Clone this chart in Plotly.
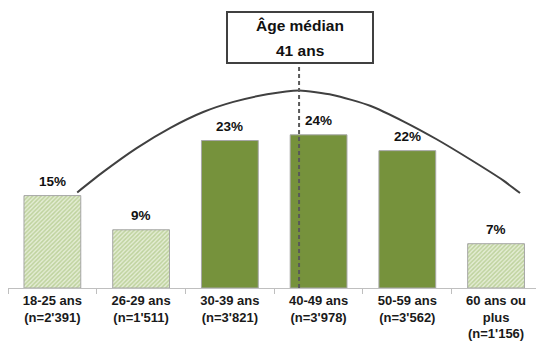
import plotly.graph_objects as go

categories = ["18-25 ans<br>(n=2'391)", "26-29 ans<br>(n=1'511)", "30-39 ans<br>(n=3'821)",
              "40-49 ans<br>(n=3'978)", "50-59 ans<br>(n=3'562)", "60 ans ou<br>plus<br>(n=1'156)"]
values = [14.6, 9.2, 23.3, 24.2, 21.7, 7.0]
labels = ["15%", "9%", "23%", "24%", "22%", "7%"]
hatched = [True, True, False, False, False, True]

# bell-shaped trend curve (x in category units, y in %)
curve_x = [0.28, 0.57, 0.95, 1.33, 1.70, 2.04, 2.42, 2.78, 3.16, 3.58, 3.96, 4.33, 4.71, 5.08, 5.27]
curve_y = [15.1, 18.3, 22.1, 25.3, 27.8, 29.4, 30.6, 31.2, 30.5, 28.8, 26.3, 23.5, 20.3, 17.0, 15.0]

median_x = 2.78
median_title = "Âge médian"
median_value = "41 ans"

W, H = 536, 343
ML, MR, MT, MB = 8, 0, 0, 55
YMAX = 45.5
XMIN, XMAX = -0.5, 5.45

solid_color = "#76923C"
hatch_bg = "#e4edd4"
hatch_fg = "#98b766"

xs = list(range(len(categories)))

fig = go.Figure()

sol_x = [x for x, h in zip(xs, hatched) if not h]
sol_y = [v for v, h in zip(values, hatched) if not h]
hat_x = [x for x, h in zip(xs, hatched) if h]
hat_y = [v for v, h in zip(values, hatched) if h]

textfont = dict(family="Liberation Sans", size=13.5, color="#111111", weight="bold")

fig.add_trace(go.Bar(x=sol_x, y=sol_y, width=0.64,
                     marker=dict(color=solid_color, line=dict(color="#a6a6a6", width=1))))
fig.add_trace(go.Bar(x=hat_x, y=hat_y, width=0.64,
                     marker=dict(color=hatch_bg,
                                 pattern=dict(shape="/", fgcolor=hatch_fg, bgcolor=hatch_bg,
                                              size=3, solidity=0.5),
                                 line=dict(color="#a6a6a6", width=1))))

for x, v, t in zip(xs, values, labels):
    fig.add_annotation(x=x, y=v, text=t, showarrow=False, yanchor="bottom", yshift=5,
                       font=textfont, xref="x", yref="y")

fig.add_trace(go.Scatter(x=curve_x, y=curve_y, mode="lines",
                         line=dict(color="#404040", width=2, shape="spline", smoothing=0.6),
                         hoverinfo="skip"))

plot_h = H - MT - MB
def py_to_y(py):
    return (H - MB - py) / plot_h * YMAX

# dashed median line
fig.add_shape(type="line", x0=median_x, x1=median_x, y0=0, y1=py_to_y(63),
              xref="x", yref="y", line=dict(color="#595959", width=2, dash="4px,3px"), layer="above")

# median box
plot_w = W - ML - MR
def px_to_x(px):
    return XMIN + (px - ML) / plot_w * (XMAX - XMIN)

fig.add_shape(type="rect", x0=px_to_x(227), x1=px_to_x(373), y0=py_to_y(63), y1=py_to_y(12),
              xref="x", yref="y", line=dict(color="#404040", width=2), fillcolor="white", layer="above")
boxfont = dict(family="Liberation Sans", size=15.5, color="#111111", weight="bold")
fig.add_annotation(x=px_to_x(300), y=py_to_y(25), text=median_title, showarrow=False,
                   font=boxfont, xref="x", yref="y")
fig.add_annotation(x=px_to_x(300), y=py_to_y(50), text=median_value, showarrow=False,
                   font=boxfont, xref="x", yref="y")

fig.update_layout(
    width=W, height=H,
    margin=dict(l=ML, r=MR, t=MT, b=MB),
    paper_bgcolor="white", plot_bgcolor="white",
    showlegend=False, bargap=0.36,
    xaxis=dict(range=[XMIN, XMAX], tickmode="array", tickvals=xs, ticktext=categories,
               ticks="", showline=True, linecolor="#bfbfbf", linewidth=1,
               showgrid=False, zeroline=False,
               tickfont=dict(family="Liberation Sans", size=13, color="#1a1a1a", weight="bold"),
               minor=dict(tickmode="array", tickvals=[i - 0.5 for i in range(len(categories) + 1)],
                          ticks="outside", ticklen=5, tickcolor="#bfbfbf", showgrid=False)),
    yaxis=dict(range=[0, YMAX], visible=False, showgrid=False, zeroline=False),
)

fig.write_html("out.html")
